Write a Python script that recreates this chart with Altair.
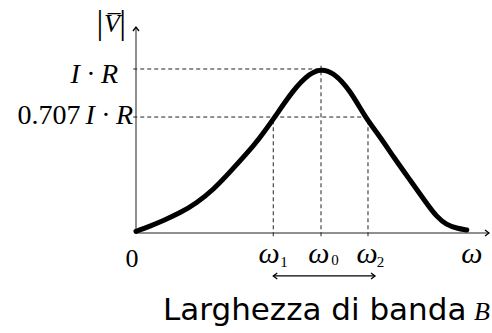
import altair as alt
import pandas as pd

# Resonance curve |V|(omega): omega in units of omega_0, |V| in units of I*R
omega = [0.0, 0.076, 0.148, 0.238, 0.328, 0.418, 0.508, 0.598, 0.661, 0.751,
         0.849, 0.941, 1.0, 1.065, 1.157, 1.238, 1.319, 1.391, 1.481, 1.571,
         1.625, 1.679, 1.734, 1.788]
v_mag = [0.010, 0.042, 0.076, 0.122, 0.183, 0.264, 0.372, 0.484, 0.567, 0.707,
         0.872, 0.976, 1.0, 0.982, 0.872, 0.707, 0.587, 0.465, 0.323, 0.181,
         0.099, 0.049, 0.029, 0.018]

w1, w0, w2 = 0.742, 1.0, 1.254
peak, half_power = 1.0, 0.707
x_end, y_end = 1.908, 1.256

X = alt.Scale(domain=[-0.7351, 1.9243], nice=False, zero=False)
Y = alt.Scale(domain=[-0.6098, 1.4207], nice=False, zero=False)

SERIF = "Times New Roman, Liberation Serif, serif"
SANS = "DejaVu Sans"
INK = "#000000"


def xy(df, **extra):
    enc = dict(x=alt.X("x:Q", scale=X, axis=None), y=alt.Y("y:Q", scale=Y, axis=None))
    enc.update(extra)
    return enc


curve_df = pd.DataFrame({"x": omega, "y": v_mag})
curve = alt.Chart(curve_df).mark_line(
    color=INK, strokeWidth=5, interpolate="basis", strokeCap="round", strokeJoin="round"
).encode(**xy(curve_df))

# Axes drawn as lines from the origin
axes_df = pd.DataFrame({"x": [0, 0], "y": [0, 0], "x2": [0, x_end], "y2": [y_end, 0]})
axes = alt.Chart(axes_df).mark_rule(color="#6a6a6a", strokeWidth=1.5).encode(
    **xy(axes_df, x2="x2:Q", y2="y2:Q")
)

# Arrow heads (open chevrons)
chevron = "M -1 -0.75 L 0 0 L -1 0.75"
heads_df = pd.DataFrame({"x": [0, x_end, w1, 1.292], "y": [y_end, 0, -0.262, -0.262],
                         "a": [270, 0, 180, 0]})
heads = alt.Chart(heads_df).mark_point(
    shape=chevron, filled=False, color=INK, strokeWidth=1.3, size=64, opacity=1
).encode(**xy(heads_df, angle=alt.Angle("a:Q", scale=None)))

# Bandwidth double arrow
band_df = pd.DataFrame({"x": [w1], "y": [-0.262], "x2": [1.292]})
band = alt.Chart(band_df).mark_rule(color=INK, strokeWidth=1.2).encode(
    **xy(band_df, x2="x2:Q")
)

# Dashed guide lines
guides_df = pd.DataFrame({
    "x":  [-0.015, -0.015, w1, w0, w2],
    "x2": [w0, w2, w1, w0, w2],
    "y":  [peak, half_power, -0.02, -0.02, -0.02],
    "y2": [peak, half_power, half_power, peak + 0.02, half_power],
})
guides = alt.Chart(guides_df).mark_rule(
    color="#222222", strokeWidth=1, strokeDash=[4, 3]
).encode(**xy(guides_df, x2="x2:Q", y2="y2:Q"))


def label(text, x, y, size, italic=False, align="center", baseline="middle", font=SERIF):
    df = pd.DataFrame({"x": [x], "y": [y], "t": [text]})
    props = dict(fontSize=size, font=font, align=align, baseline=baseline, color=INK)
    if italic:
        props["fontStyle"] = "italic"
    return alt.Chart(df).mark_text(**props).encode(**xy(df, text="t:N"))


labels = [
    label("|", -0.195, 1.274, 34),
    label("|", -0.072, 1.274, 34),
    label("V\u0305", -0.130, 1.274, 26, italic=True),
    label("I · R", -0.097, 0.963, 28, italic=True, align="right"),
    label("I · R", -0.016, 0.713, 28, italic=True, align="right"),
    label("0.707", -0.300, 0.713, 28, align="right"),
    label("0", -0.022, -0.160, 26),
    label("ω", 0.719, -0.128, 30, italic=True),
    label("1", 0.800, -0.177, 15),
    label("ω", 0.989, -0.128, 30, italic=True),
    label("0", 1.076, -0.165, 15),
    label("ω", 1.249, -0.128, 30, italic=True),
    label("2", 1.322, -0.177, 15),
    label("ω", 1.816, -0.128, 30, italic=True),
    label("Larghezza di banda", 0.146, -0.530, 31, align="left", baseline="alphabetic",
          font=SANS),
    label("B", 1.870, -0.530, 26, italic=True, baseline="alphabetic"),
]

chart = alt.layer(axes, guides, curve, band, heads, *labels).properties(
    width=492, height=333, autosize=alt.AutoSizeParams(type="none"), padding=0
).configure_view(stroke=None)

chart.save("out.html", embed_options={"renderer": "svg", "actions": False})
